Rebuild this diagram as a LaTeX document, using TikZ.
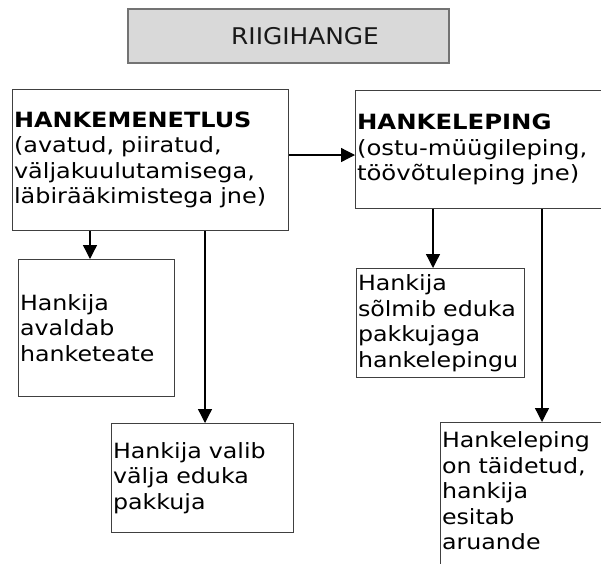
\documentclass[tikz,border=0pt]{standalone}
\usepackage{fontspec}
\setmainfont{DejaVu Sans}[FakeStretch=1.13]
\newfontfamily\fontA{DejaVu Sans}[FakeStretch=1.14]
\newfontfamily\fontB{DejaVu Sans}[FakeStretch=1.16]
\newfontfamily\titlefont{DejaVu Sans}[FakeStretch=1.08]
\usetikzlibrary{arrows.meta}
\begin{document}
\begin{tikzpicture}[x=1pt,y=-1pt,
  bx/.style={draw=black!75, line width=1pt, fill=white, anchor=north west,
    align=left, inner xsep=1.5pt, inner ysep=0pt,
    font=\fontsize{21pt}{25.5pt}\selectfont},
  topbox/.style={draw=black!55, line width=1.5pt, fill=black!15,
    inner sep=0pt, font=\titlefont\fontsize{23pt}{28pt}\selectfont, text=black!90},
  arr/.style={line width=1.3pt, -{Triangle[length=14pt,width=14pt]}}]
\clip (0,0) rectangle (601,563);
\fill[white] (0,0) rectangle (601,563);
\node[topbox, minimum width=321pt, minimum height=54pt] (top) at (288.5,36) {\hspace*{33pt}RIIGIHANGE};
\node[bx, font=\fontA\fontsize{21pt}{25.5pt}\selectfont, minimum width=276pt, minimum height=141pt, text width=273pt] (b1) at (12,89)
  {\textbf{HANKEMENETLUS}\\(avatud, piiratud,\\väljakuulutamisega,\\läbirääkimistega jne)};
\node[bx, font=\fontB\fontsize{21pt}{25.5pt}\selectfont, minimum width=265pt, minimum height=118pt, text width=262pt] (b2) at (355,90)
  {\textbf{HANKELEPING}\\(ostu-müügileping,\\töövõtuleping jne)};
\node[bx, minimum width=156pt, minimum height=137pt, text width=153pt] (b3) at (18,259)
  {Hankija\\avaldab\\hanketeate};
\node[bx, minimum width=182pt, minimum height=109pt, text width=179pt] (b4) at (111,423)
  {Hankija valib\\välja eduka\\pakkuja};
\node[bx, minimum width=168pt, minimum height=109pt, text width=165pt] (b5) at (356,268)
  {Hankija\\sõlmib eduka\\pakkujaga\\hankelepingu};
\node[bx, minimum width=180pt, minimum height=144pt, text width=177pt, text depth=109pt] (b6) at (440,422)
  {Hankeleping\\on täidetud,\\hankija\\esitab\\aruande};
\coordinate (x90) at (90,0);
\coordinate (x205) at (205,0);
\coordinate (x433) at (433,0);
\coordinate (x542) at (542,0);
\coordinate (y155) at (0,155);
\draw[arr] (b1.south -| x90) -- (b3.north -| x90);
\draw[arr] (b1.south -| x205) -- (b4.north -| x205);
\draw[arr] (b1.east |- y155) -- (b2.west |- y155);
\draw[arr] (b2.south -| x433) -- (b5.north -| x433);
\draw[arr] (b2.south -| x542) -- (b6.north -| x542);
\end{tikzpicture}
\end{document}
